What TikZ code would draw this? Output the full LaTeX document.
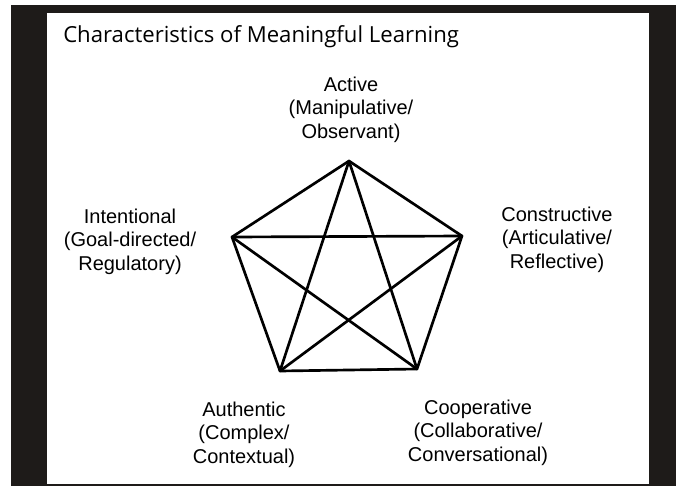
\documentclass[tikz,border=0pt]{standalone}
\usepackage{fontspec}
\setmainfont{Liberation Sans}
\newfontfamily\titlefont{Open Sans}
\usepackage{tikz}
\definecolor{framedark}{RGB}{30, 27, 25}

\begin{document}
\begin{tikzpicture}[x=0.75pt, y=-0.75pt,
    trait/.style={align=center, inner sep=0pt, anchor=base,
                  font=\fontsize{15}{17.3}\selectfont},
    heading/.style={anchor=base west, inner sep=0pt,
                    font=\titlefont\fontsize{16.6}{19}\selectfont},
    edge/.style={line width=2pt, line join=round, line cap=round}
  ]
    \useasboundingbox (0,0) rectangle (676,486);
    \fill[white] (0,0) rectangle (676,486);
    \fill[framedark] (11,5) rectangle (676,486);
    \fill[white] (47,13) rectangle (649,484);

    \node[heading] (title) at (63,42) {Characteristics of Meaningful Learning};

    \coordinate (vact) at (349,161);
    \coordinate (vcon) at (462,236);
    \coordinate (vcoop) at (417,369);
    \coordinate (vauth) at (280,371);
    \coordinate (vint) at (232,237);

    % base anchor sits on the last line
    \node[trait] (act) at (351,138) {Active\\(Manipulative/\\Observant)};
    \node[trait] (con) at (557,268) {Constructive\\(Articulative/\\Reflective)};
    \node[trait] (coop) at (478,461) {Cooperative\\(Collaborative/\\Conversational)};
    \node[trait] (auth) at (244,463) {Authentic\\(Complex/\\Contextual)};
    \node[trait] (int) at (130,270) {Intentional\\(Goal-directed/\\Regulatory)};

    \draw[edge] (vact) -- (vcon) -- (vcoop) -- (vauth) -- (vint) -- cycle;
    \draw[edge] (vact) -- (vcoop);
    \draw[edge] (vact) -- (vauth);
    \draw[edge] (vint) -- (vcon);
    \draw[edge] (vint) -- (vcoop);
    \draw[edge] (vauth) -- (vcon);
  \end{tikzpicture}
\end{document}
